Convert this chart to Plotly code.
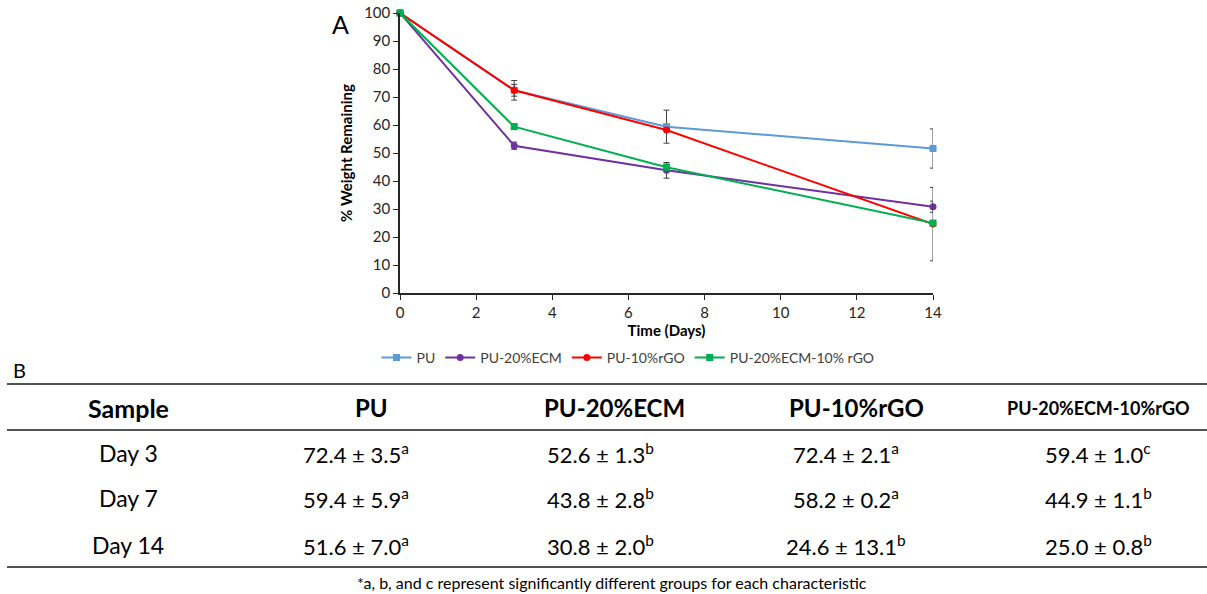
import plotly.graph_objects as go

# Degradation time points (days)
days = [0, 3, 7, 14]

# Series names
series_names = ["PU", "PU-20%ECM", "PU-10%rGO", "PU-20%ECM-10% rGO"]
table_headers = ["PU", "PU-20%ECM", "PU-10%rGO", "PU-20%ECM-10%rGO"]

# Mean % weight remaining per sample (day 0 = 100)
pu_mean = [100, 72.4, 59.4, 51.6]
ecm_mean = [100, 52.6, 43.8, 30.8]
rgo_mean = [100, 72.4, 58.2, 24.6]
ecm_rgo_mean = [100, 59.4, 44.9, 25.0]

# Standard deviations
pu_sd = [0, 3.5, 5.9, 7.0]
ecm_sd = [0, 1.3, 2.8, 2.0]
rgo_sd = [0, 2.1, 0.2, 13.1]
ecm_rgo_sd = [0, 1.0, 1.1, 0.8]

# Significance letters (days 3, 7, 14)
pu_sig = ["a", "a", "a"]
ecm_sig = ["b", "b", "b"]
rgo_sig = ["a", "a", "b"]
ecm_rgo_sig = ["c", "b", "b"]

row_labels = ["Day 3", "Day 7", "Day 14"]
footnote = "*a, b, and c represent significantly different groups for each characteristic"

means = [pu_mean, ecm_mean, rgo_mean, ecm_rgo_mean]
sds = [pu_sd, ecm_sd, rgo_sd, ecm_rgo_sd]
sigs = [pu_sig, ecm_sig, rgo_sig, ecm_rgo_sig]
colors = ["#5B9BD5", "#7030A0", "#FF0000", "#00B050"]
symbols = ["square", "circle", "circle", "square"]

W, H = 1207, 594
L, R, T, B = 400, 933, 13, 293  # plot area in pixels

FONT = "Lato, 'Open Sans', sans-serif"


def fx(p):
    return (p - L) / (R - L)


def fy(p):
    return (B - p) / (B - T)


fig = go.Figure()
for name, m, s, c, sym in zip(series_names, means, sds, colors, symbols):
    fig.add_trace(go.Scatter(
        x=days, y=m, name=name, mode="lines+markers",
        line=dict(color=c, width=2),
        marker=dict(symbol=sym, size=7, color=c),
        error_y=dict(type="data", array=s, visible=True,
                     color="#404040", thickness=1, width=3),
        cliponaxis=False,
    ))

axis_common = dict(
    showline=True, linecolor="#262626", linewidth=1.5,
    ticks="outside", tickcolor="#262626", ticklen=5, tickwidth=1.2,
    showgrid=False, zeroline=False,
    tickfont=dict(family=FONT, size=15, color="#262626"),
)
fig.update_xaxes(range=[0, 14], dtick=2, **axis_common,
                 title=dict(text="<b>Time (Days)</b>", standoff=6,
                            font=dict(family=FONT, size=15, color="#000")))
fig.update_yaxes(range=[0, 100], dtick=10, **axis_common,
                 title=dict(text="<b>% Weight Remaining</b>", standoff=8,
                            font=dict(family=FONT, size=15, color="#000")))

annotations = []
shapes = []


def text(px, py, s, size, bold=False, anchor="center", color="#000"):
    annotations.append(dict(
        x=fx(px), y=fy(py), xref="paper", yref="paper",
        text=f"<b>{s}</b>" if bold else s, showarrow=False,
        xanchor=anchor, yanchor="middle",
        font=dict(family=FONT, size=size, color=color),
    ))


def hline(py, x0=7, x1=W, width=1.6):
    shapes.append(dict(type="line", xref="paper", yref="paper",
                       x0=fx(x0), x1=fx(x1), y0=fy(py), y1=fy(py),
                       line=dict(color="#1a1a1a", width=width)))


# Panel labels
text(340, 24, "A", 25)
text(19, 370, "B", 20)

# Table rules
hline(384)
hline(430)
hline(567)

head_x = [128, 371, 614, 856, 1098]
body_x = [128, 356, 600, 846, 1098]
row_y = [453, 498, 545]

text(head_x[0], 408, "Sample", 25, bold=True)
for cx, h in zip(head_x[1:], table_headers):
    text(cx, 408, h, 18 if len(h) > 12 else 24, bold=True)
for ri, (ry, lab) in enumerate(zip(row_y, row_labels)):
    text(body_x[0], ry, lab, 23)
    for cx, m, s, g in zip(body_x[1:], means, sds, sigs):
        text(cx, ry, f"{m[ri + 1]:.1f} ± {s[ri + 1]:.1f}<sup>{g[ri]}</sup>", 22)

text(612, 582, footnote, 16)

fig.update_layout(
    width=W, height=H,
    margin=dict(l=L, r=W - R, t=T, b=H - B, autoexpand=False),
    paper_bgcolor="white", plot_bgcolor="white",
    showlegend=True,
    legend=dict(orientation="h", x=fx(628), xanchor="center",
                y=fy(358), yanchor="middle",
                font=dict(family=FONT, size=14, color="#404040"),
                itemwidth=30, tracegroupgap=0),
    annotations=annotations, shapes=shapes,
)

fig.write_html("out.html")
